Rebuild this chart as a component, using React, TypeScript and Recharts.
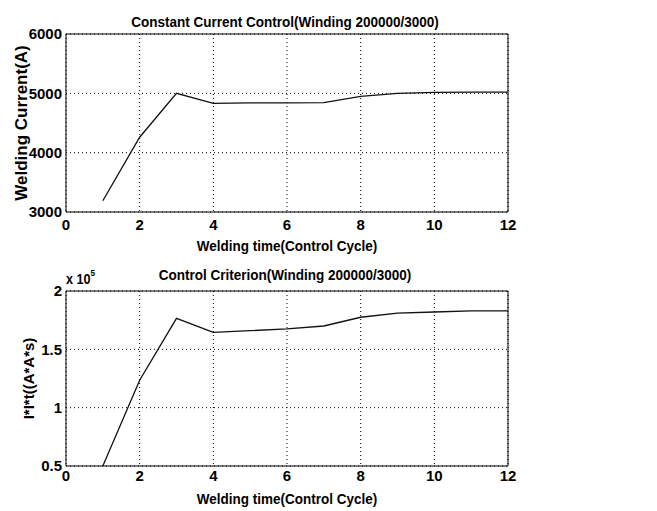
import React from "react";
import { LineChart, Line, XAxis, YAxis, CartesianGrid, Label, ReferenceLine } from "recharts";

const cycles = [1, 2, 3, 4, 5, 6, 7, 8, 9, 10, 11, 12];
const currents = [3190, 4260, 5000, 4830, 4840, 4840, 4845, 4950, 5000, 5015, 5020, 5020];
const criterion = [50000, 123500, 176500, 164500, 166000, 167500, 170000, 177500, 181000, 182000, 183000, 183000];

const xTicks = [0, 2, 4, 6, 8, 10, 12];
const currentTicks = [3000, 4000, 5000, 6000];
const criterionTicks = [50000, 100000, 150000, 200000];

const data = cycles.map((c, i) => ({ cycle: c, current: currents[i], criterion: criterion[i] }));

const FONT = "'Liberation Sans', Arial, sans-serif";
const tickStyle = { fontFamily: FONT, fontWeight: 700, fontSize: 15, fill: "#000" };

const Title = ({ x, y, children }: { x: number; y: number; children: React.ReactNode }) => (
  <div
    style={{
      position: "absolute",
      left: x,
      top: y,
      transform: "translate(-50%, -50%) scaleX(0.9)",
      fontFamily: FONT,
      fontWeight: 700,
      fontSize: 15,
      whiteSpace: "nowrap",
      color: "#000",
    }}
  >
    {children}
  </div>
);

// condensed bold text, like the narrow font of the original
const XLabel = (text: string, gap: number) => (props: any) => {
  const vb = props.viewBox;
  const cx = vb.x + vb.width / 2;
  const cy = vb.y + vb.height - gap;
  return (
    <text
      transform={`translate(${cx},${cy}) scale(0.9,1)`}
      textAnchor="middle"
      style={{ fontFamily: FONT, fontWeight: 700, fontSize: 15 }}
      fill="#000"
    >
      {text}
    </text>
  );
};

const YLabel = (text: string, cxPos: number, size: number) => (props: any) => {
  const vb = props.viewBox;
  const cy = vb.y + vb.height / 2;
  return (
    <text
      transform={`translate(${cxPos},${cy}) rotate(-90)`}
      textAnchor="middle"
      dominantBaseline="central"
      style={{ fontFamily: FONT, fontWeight: 700, fontSize: size }}
      fill="#000"
    >
      {text}
    </text>
  );
};

export default function App() {
  return (
    <div style={{ position: "absolute", left: 0, top: 0, width: 657, height: 511, background: "#fff", overflow: "hidden" }}>
      <Title x={285} y={21}>Constant Current Control(Winding 200000/3000)</Title>
      <div style={{ position: "absolute", left: 0, top: 0 }}>
        <LineChart width={657} height={256} data={data} margin={{ top: 34, right: 149, bottom: 0, left: 0 }}>
          <CartesianGrid stroke="#000" strokeDasharray="1 3" />
          <XAxis
            dataKey="cycle"
            type="number"
            domain={[0, 12]}
            ticks={xTicks}
            height={44}
            tickLine={false}
            tickSize={5}
            tickMargin={2}
            tick={tickStyle}
            axisLine={{ stroke: "#000" }}
          >
            <Label content={XLabel("Welding time(Control Cycle)", 5)} />
          </XAxis>
          <YAxis
            type="number"
            domain={[3000, 6000]}
            ticks={currentTicks}
            width={66}
            tickLine={false}
            tickSize={2}
            tickMargin={2}
            tick={tickStyle}
            axisLine={{ stroke: "#000" }}
          >
            <Label content={YLabel("Welding Current(A)", 21, 17)} />
          </YAxis>
          <ReferenceLine x={12} stroke="#000" />
          <ReferenceLine y={6000} stroke="#000" />
          <Line type="linear" dataKey="current" stroke="#111" strokeWidth={1.3} dot={false} isAnimationActive={false} />
        </LineChart>
      </div>

      <Title x={285} y={274}>Control Criterion(Winding 200000/3000)</Title>
      <div
        style={{
          position: "absolute",
          left: 66,
          top: 270,
          fontFamily: FONT,
          fontWeight: 700,
          fontSize: 14,
          whiteSpace: "nowrap",
          transform: "scaleX(0.9)",
          transformOrigin: "left center",
        }}
      >
        x 10<sup style={{ fontSize: 9, position: "relative", top: -2 }}>5</sup>
      </div>
      <div style={{ position: "absolute", left: 0, top: 255 }}>
        <LineChart width={657} height={256} data={data} margin={{ top: 36, right: 149, bottom: 0, left: 0 }}>
          <CartesianGrid stroke="#000" strokeDasharray="1 3" />
          <XAxis
            dataKey="cycle"
            type="number"
            domain={[0, 12]}
            ticks={xTicks}
            height={45}
            tickLine={false}
            tickSize={2}
            tickMargin={2}
            tick={tickStyle}
            axisLine={{ stroke: "#000" }}
          >
            <Label content={XLabel("Welding time(Control Cycle)", 7)} />
          </XAxis>
          <YAxis
            type="number"
            domain={[50000, 200000]}
            ticks={criterionTicks}
            allowDataOverflow
            width={66}
            tickLine={false}
            tickSize={2}
            tickMargin={2}
            tick={tickStyle}
            tickFormatter={(v: number) => String(v / 100000)}
            axisLine={{ stroke: "#000" }}
          >
            <Label content={YLabel("I*I*t((A*A*s)", 28, 15)} />
          </YAxis>
          <ReferenceLine x={12} stroke="#000" />
          <ReferenceLine y={200000} stroke="#000" />
          <Line type="linear" dataKey="criterion" stroke="#111" strokeWidth={1.3} dot={false} isAnimationActive={false} />
        </LineChart>
      </div>
    </div>
  );
}
